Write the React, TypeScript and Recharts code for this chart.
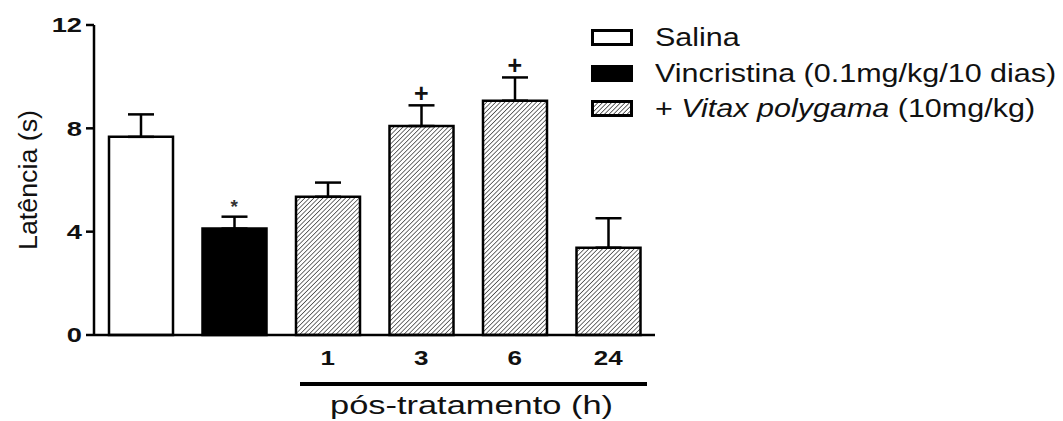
import React from 'react';
import {
  ComposedChart,
  Bar,
  Cell,
  Line,
  XAxis,
  YAxis,
  ErrorBar,
  LabelList,
} from 'recharts';

const groups = ['Salina', 'Vincristina', '1 h', '3 h', '6 h', '24 h'];
const tickLabels = ['', '', '1', '3', '6', '24'];
const means = [7.67, 4.12, 5.35, 8.09, 9.07, 3.38];
const sems = [0.87, 0.46, 0.55, 0.8, 0.9, 1.14];
const marks = ['', '*', '', '+', '+', ''];
const fills = ['#ffffff', '#000000', 'url(#hatch)', 'url(#hatch)', 'url(#hatch)', 'url(#hatch)'];
const yTicks = [0, 4, 8, 12];

const legendItems = [
  { key: 'salina', swatch: 'white' },
  { key: 'vinc', swatch: 'black' },
  { key: 'vitax', swatch: 'hatch' },
];

const data = groups.map((g, i) => ({
  group: g,
  mean: means[i],
  err: [0, sems[i]],
  markTop: means[i] + sems[i],
  mark: marks[i],
}));

const FONT = '"Liberation Sans", Arial, sans-serif';
const INK = '#111';

// eslint-disable-next-line @typescript-eslint/no-explicit-any
const YTick = ({ x, y, payload }: any) => (
  <g transform={`translate(${x},${y})`}>
    <text
      transform="scale(1.3,1)"
      textAnchor="end"
      dominantBaseline="central"
      fontFamily={FONT}
      fontWeight="bold"
      fontSize={21}
      fill={INK}
    >
      {payload.value}
    </text>
  </g>
);

// eslint-disable-next-line @typescript-eslint/no-explicit-any
const XTick = ({ x, y, index }: any) => (
  <g transform={`translate(${x},${y + 30})`}>
    <text
      transform="scale(1.3,1)"
      textAnchor="middle"
      fontFamily={FONT}
      fontWeight="bold"
      fontSize={20}
      fill={INK}
    >
      {tickLabels[index]}
    </text>
  </g>
);

// eslint-disable-next-line @typescript-eslint/no-explicit-any
const MarkLabel = ({ x, y, value }: any) => {
  if (!value) return null;
  const star = value === '*';
  return (
    <text
      x={x}
      y={star ? y - 10 : y - 12}
      textAnchor="middle"
      dominantBaseline="central"
      fontFamily={FONT}
      fontWeight="bold"
      fontSize={star ? 19 : 25}
      fill={star ? '#333' : INK}
    >
      {value}
    </text>
  );
};

const Swatch = ({ kind }: { kind: string }) => (
  <svg width={42} height={17} style={{ display: 'block' }}>
    <defs>
      <pattern id="hatchLegend" patternUnits="userSpaceOnUse" width={3.2} height={3.2} patternTransform="rotate(45)">
        <rect width={3.2} height={3.2} fill="#fff" />
        <line x1={0} y1={0} x2={0} y2={3.2} stroke="#333" strokeWidth={1.5} />
      </pattern>
    </defs>
    <rect
      x={1.5}
      y={1.5}
      width={39}
      height={14}
      fill={kind === 'white' ? '#fff' : kind === 'black' ? '#000' : 'url(#hatchLegend)'}
      stroke="#000"
      strokeWidth={3}
    />
  </svg>
);

const legendText = (key: string) => {
  if (key === 'salina') return 'Salina';
  if (key === 'vinc') return 'Vincristina (0.1mg/kg/10 dias)';
  return (
    <>
      + <i>Vitax polygama</i> (10mg/kg)
    </>
  );
};

export default function App() {
  return (
    <div style={{ position: 'absolute', left: 0, top: 0, width: 1063, height: 421, background: '#fff' }}>
      <ComposedChart
        width={1063}
        height={421}
        data={data}
        margin={{ top: 25, right: 408, left: 0, bottom: 56 }}
      >
        <defs>
          <pattern id="hatch" patternUnits="userSpaceOnUse" width={3.2} height={3.2} patternTransform="rotate(45)">
            <rect width={3.2} height={3.2} fill="#fff" />
            <line x1={0} y1={0} x2={0} y2={3.2} stroke="#333" strokeWidth={1.4} />
          </pattern>
        </defs>
        <XAxis
          dataKey="group"
          height={30}
          axisLine={{ stroke: '#000', strokeWidth: 2.5 }}
          tickLine={false}
          tickSize={0}
          tickMargin={0}
          interval={0}
          tick={<XTick />}
        />
        <YAxis
          domain={[0, 12]}
          ticks={yTicks}
          width={94}
          axisLine={{ stroke: '#000', strokeWidth: 2.5 }}
          tickLine={{ stroke: '#000', strokeWidth: 2.5 }}
          tickSize={8}
          tickMargin={4}
          tick={<YTick />}
        />
        <Bar dataKey="mean" barSize={64} stroke="#000" strokeWidth={2.5} isAnimationActive={false}>
          {data.map((d, i) => (
            <Cell key={d.group} fill={fills[i]} />
          ))}
          <ErrorBar dataKey="err" direction="y" width={13} stroke="#000" strokeWidth={2.5} />
        </Bar>
        <Line
          dataKey="markTop"
          stroke="none"
          dot={false}
          activeDot={false}
          isAnimationActive={false}
        >
          <LabelList dataKey="mark" content={<MarkLabel />} />
        </Line>
      </ComposedChart>

      <svg width={1063} height={421} style={{ position: 'absolute', left: 0, top: 0, pointerEvents: 'none' }}>
        <text
          transform="translate(28,180) rotate(-90)"
          textAnchor="middle"
          dominantBaseline="central"
          fontFamily={FONT}
          fontSize={26}
          textLength={140}
          lengthAdjust="spacingAndGlyphs"
          fill={INK}
        >
          Latência (s)
        </text>
        <line x1={300} y1={384} x2={647} y2={384} stroke="#000" strokeWidth={4} />
        <text
          x={330}
          y={414}
          fontFamily={FONT}
          fontSize={26}
          textLength={283}
          lengthAdjust="spacingAndGlyphs"
          fill={INK}
        >
          pós-tratamento (h)
        </text>
      </svg>

      <div style={{ position: 'absolute', left: 591, top: 20, fontFamily: FONT, color: INK }}>
        {legendItems.map((it) => (
          <div key={it.key} style={{ display: 'flex', alignItems: 'center', height: 35.5 }}>
            <Swatch kind={it.swatch} />
            <span
              style={{
                marginLeft: 22,
                fontSize: 25,
                whiteSpace: 'nowrap',
                display: 'inline-block',
                transform: 'scaleX(1.22)',
                transformOrigin: 'left center',
              }}
            >
              {legendText(it.key)}
            </span>
          </div>
        ))}
      </div>
    </div>
  );
}
